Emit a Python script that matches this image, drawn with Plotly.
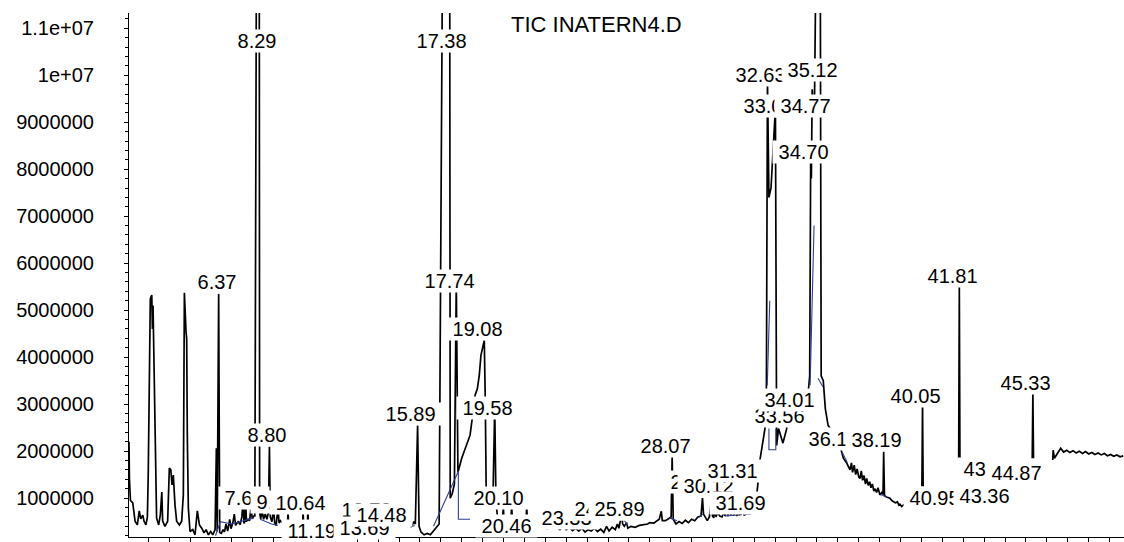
import plotly.graph_objects as go

# Total ion chromatogram: retention time (min) and abundance (counts).
# None entries break the trace where it runs behind the peak labels.
rt_min = [
    2.08, 2.10, 2.15, 2.26, 2.37, 2.48, 2.57, 2.64, 2.74, 2.80, 2.89, 2.96,
    3.00, 3.05, 3.10, 3.17, 3.20, 3.23, 3.28, 3.34, 3.40, 3.50, 3.58, 3.65,
    3.69, 3.80, 3.93, 4.01, 4.08, 4.14, 4.20, 4.28, 4.36, 4.49, 4.60, 4.68,
    4.73, 4.81, 4.84, 4.87, 4.92, 5.00, 5.13, 5.24, 5.35, 5.45, 5.56, 5.67,
    5.77, 5.88, 5.99, 6.09, 6.20, 6.26, 6.30, 6.37, 6.42, 6.50, 6.58, 6.65,
    6.72, 6.80, 6.90, 6.96, 7.05, 7.12, 7.18, 7.30, 7.40, 7.48, 7.54, 7.58,
    7.62, 7.66, 7.70, 7.78, 7.85, 7.92, 7.98, 8.05, 8.10, 8.29, 8.33, 8.38,
    8.45, 8.52, 8.60, 8.68, 8.75, 8.80, 8.84, 8.92, 9.00, 9.05, 9.12, 9.21,
    9.26, 9.33, 9.40, None,
    9.67, 9.69, 9.71, None,
    10.39, 10.41, 10.43, None,
    10.62, 10.64, 10.66, None,
    15.62, 15.70, 15.78, 15.89, 15.96, 16.05, 16.20, 16.35, 16.50, 16.70,
    16.92, 17.38, 17.45, 17.55, 17.65, 17.74, 17.82, 18.00, 18.24, 18.40,
    18.52, 18.64, 18.75, 18.84, 18.92, 19.03, 19.08, 19.13, 19.17, 19.30,
    19.50, 19.58, 19.64, 19.75, 19.95, 19.99, 20.03, 20.35, 20.39, 20.43,
    20.80, 21.07, 21.11, 21.15, 21.50, 21.80, 22.10, 22.30, 22.54, 22.70,
    22.85, 23.00, 23.15, 23.30, 23.45, 23.60, 23.75, 23.90, 24.05, 24.20,
    24.35, 24.50, 24.65, 24.80, 24.93, 25.05, 25.20, 25.35, 25.45, 25.52,
    25.60, 25.66, 25.70, 25.78, 25.89, 25.95, 26.10, 26.30, 26.50, 26.70,
    26.90, 27.00, 27.20, 27.35, 27.45, 27.55, 27.60, 27.75, 27.90, 28.02,
    28.07, 28.12, 28.25, 28.40, 28.55, 28.70, 28.85, 29.00, 29.15, 29.30,
    29.45, 29.52, 29.57, 29.65, 29.75, 29.85, 29.95, 30.00, 30.06, 30.12,
    30.17, 30.25, 30.35, 30.46, 30.55, 30.60, 30.68, 30.74, 30.82, 30.88,
    30.96, 31.02, 31.10, 31.16, 31.24, 31.28, 31.31, 31.36, 31.45, 31.52,
    31.60, 31.69, 31.76, 31.85, 31.95, 32.05, 32.15, 32.27, 32.51, 32.58,
    32.63, 32.70, 32.80, 33.01, 33.05, 33.06, 33.07, 33.16, 33.37, 33.55,
    33.56, 33.65, 33.85, 34.01, 34.15, 34.35, 34.55, 34.65, 34.70, 34.73,
    34.77, 34.83, 34.88, 35.12, 35.20, 35.30, 35.40, 35.53, 35.75, 35.95,
    36.14, 36.26, 36.42, 36.58, 36.65, 36.70, 36.78, 36.85, 36.92, 37.00,
    37.06, 37.12, 37.18, 37.25, 37.32, 37.38, 37.45, 37.52, 37.58, 37.65,
    37.72, 37.78, 37.85, 37.92, 38.01, 38.10, 38.16, 38.19, 38.23, 38.35,
    38.49, 38.58, 38.65, 38.75, 38.85, 38.92, 38.97, 39.05, 39.15, 39.25,
    None,
    40.02, 40.05, 40.08, None,
    41.78, 41.81, 41.84, None,
    45.30, 45.33, 45.36, None,
    46.28, 46.30, 46.36, 46.50, 46.66, 46.80, 46.95, 47.10, 47.25, 47.40,
    47.55, 47.70, 47.85, 48.00, 48.15, 48.30, 48.45, 48.60, 48.75, 48.90,
    49.05, 49.20, 49.35, 49.50, 49.65,
]
tic_counts = [
    2.20e6, 1.40e6, 0.95e6, 0.90e6, 0.51e6, 0.43e6, 0.73e6, 0.56e6, 0.64e6, 0.51e6, 0.43e6, 0.60e6,
    1.49e6, 3.76e6, 5.24e6, 5.32e6, 4.60e6, 5.10e6, 3.76e6, 1.49e6, 0.58e6, 0.43e6, 0.65e6, 1.13e6,
    0.51e6, 0.40e6, 0.51e6, 1.64e6, 1.60e6, 1.28e6, 1.49e6, 0.86e6, 0.51e6, 0.43e6, 0.51e6, 1.07e6,
    5.37e6, 4.53e6, 4.39e6, 2.34e6, 0.79e6, 0.29e6, 0.33e6, 0.22e6, 0.73e6, 0.43e6, 0.36e6, 0.26e6,
    0.33e6, 0.22e6, 0.29e6, 0.22e6, 0.33e6, 2.06e6, 0.29e6, 5.35e6, 0.27e6, 0.25e6, 0.33e6, 0.28e6,
    0.45e6, 0.30e6, 0.55e6, 0.35e6, 0.48e6, 0.66e6, 0.42e6, 0.50e6, 0.44e6, 0.60e6, 0.95e6, 0.46e6,
    0.50e6, 0.96e6, 0.50e6, 0.55e6, 0.52e6, 0.80e6, 0.56e6, 0.62e6, 0.62e6, 3.00e7, 0.70e6, 0.56e6,
    0.74e6, 0.55e6, 0.66e6, 0.55e6, 0.70e6, 2.10e6, 0.60e6, 0.50e6, 0.78e6, 0.48e6, 0.42e6, 0.80e6,
    0.47e6, 0.52e6, 0.48e6, None,
    0.50e6, 0.72e6, 0.50e6, None,
    0.50e6, 0.70e6, 0.50e6, None,
    0.50e6, 0.74e6, 0.50e6, None,
    0.40e6, 0.50e6, 0.45e6, 2.55e6, 0.40e6, 0.28e6, 0.22e6, 0.25e6, 0.22e6, 0.32e6,
    0.45e6, 3.50e7, 1.00e6, 1.10e6, 1.30e6, 5.60e6, 1.55e6, 1.85e6, 2.13e6, 2.34e6,
    2.75e6, 3.19e6, 3.33e6, 3.61e6, 4.04e6, 4.29e6, 4.36e6, 3.00e6, 1.20e6, 1.10e6,
    1.10e6, 2.95e6, 0.90e6, 0.45e6, 0.45e6, 0.85e6, 0.45e6, 0.45e6, 0.85e6, 0.45e6,
    0.40e6, 0.40e6, 0.85e6, 0.40e6, 0.36e6, 0.38e6, 0.35e6, 0.42e6, 0.38e6, 0.33e6,
    0.40e6, 0.33e6, 0.38e6, 0.31e6, 0.36e6, 0.30e6, 0.36e6, 0.28e6, 0.33e6, 0.30e6,
    0.36e6, 0.29e6, 0.34e6, 0.27e6, 0.40e6, 0.30e6, 0.38e6, 0.33e6, 0.45e6, 0.36e6,
    0.55e6, 0.66e6, 0.45e6, 0.40e6, 0.48e6, 0.36e6, 0.40e6, 0.38e6, 0.42e6, 0.44e6,
    0.45e6, 0.48e6, 0.47e6, 0.52e6, 0.55e6, 0.72e6, 0.52e6, 0.52e6, 0.56e6, 0.60e6,
    1.89e6, 0.55e6, 0.45e6, 0.50e6, 0.46e6, 0.53e6, 0.48e6, 0.55e6, 0.52e6, 0.60e6,
    0.62e6, 1.00e6, 0.66e6, 0.60e6, 0.52e6, 0.60e6, 0.95e6, 0.62e6, 0.58e6, 0.82e6,
    0.60e6, 0.70e6, 0.62e6, 0.60e6, 0.72e6, 0.62e6, 0.76e6, 0.62e6, 0.75e6, 0.63e6,
    0.77e6, 0.63e6, 0.78e6, 0.62e6, 0.74e6, 0.63e6, 0.80e6, 0.64e6, 0.77e6, 0.64e6,
    0.66e6, 0.82e6, 0.66e6, 0.70e6, 0.78e6, 0.90e6, 1.20e6, 1.81e6, 2.48e6, 3.40e6,
    9.90e6, 7.40e6, 7.60e6, 9.30e6, 3.20e6, 2.40e6, 2.12e6, 2.48e6, 2.17e6, 2.48e6,
    3.00e6, 2.60e6, 2.55e6, 3.20e6, 2.60e6, 2.75e6, 3.10e6, 3.60e6, 8.40e6, 7.80e6,
    9.70e6, 9.20e6, 9.40e6, 2.00e7, 3.60e6, 3.50e6, 2.90e6, 2.55e6, 2.40e6, 2.20e6,
    2.05e6, 1.85e6, 1.75e6, 1.60e6, 1.75e6, 1.55e6, 1.70e6, 1.50e6, 1.62e6, 1.45e6,
    1.42e6, 1.58e6, 1.38e6, 1.48e6, 1.30e6, 1.42e6, 1.27e6, 1.35e6, 1.22e6, 1.30e6,
    1.15e6, 1.20e6, 1.12e6, 1.22e6, 1.07e6, 1.12e6, 1.08e6, 1.99e6, 1.05e6, 1.02e6,
    1.00e6, 0.95e6, 0.93e6, 0.90e6, 0.92e6, 0.85e6, 0.87e6, 0.82e6, 0.86e6, 0.80e6,
    None,
    1.25e6, 3.00e6, 1.25e6, None,
    1.85e6, 5.50e6, 1.85e6, None,
    1.85e6, 3.25e6, 1.85e6, None,
    1.81e6, 2.02e6, 1.85e6, 1.95e6, 2.06e6, 1.98e6, 2.02e6, 1.97e6, 2.01e6, 1.96e6,
    2.00e6, 1.95e6, 1.99e6, 1.94e6, 1.97e6, 1.93e6, 1.96e6, 1.92e6, 1.95e6, 1.90e6,
    1.93e6, 1.89e6, 1.92e6, 1.88e6, 1.90e6,
]

# Integration baselines and drop lines
base_rt = [
    6.22, 6.45, 7.00, 7.60, 8.05, None,
    8.36, 8.90, 9.20, None,
    15.55, 15.75, None,
    16.65, 17.84, 17.84, 18.40, None,
    25.62, 25.95, None,
    27.95, 28.30, None,
    29.30, 29.55, None,
    30.60, 31.20, None,
    31.50, 32.00, None,
    32.62, 32.74, None,
    32.70, 32.70, 33.03, 33.03, None,
    34.67, 34.86, None,
    35.05, 35.28, None,
    36.20, 36.45, None,
    38.05, 38.35,
]
base_counts = [
    0.20e6, 0.50e6, 0.45e6, 0.52e6, 0.58e6, None,
    0.55e6, 0.45e6, 0.42e6, None,
    0.38e6, 0.42e6, None,
    0.40e6, 1.57e6, 0.55e6, 0.55e6, None,
    0.62e6, 0.42e6, None,
    0.58e6, 0.52e6, None,
    0.58e6, 0.66e6, None,
    0.62e6, 0.64e6, None,
    0.65e6, 0.68e6, None,
    3.40e6, 5.20e6, None,
    2.48e6, 2.03e6, 2.03e6, 2.48e6, None,
    3.40e6, 6.80e6, None,
    3.55e6, 3.37e6, None,
    1.98e6, 1.76e6, None,
    1.08e6, 1.02e6,
]

# Abundance axis ticks
y_tick_vals = [1e6, 2e6, 3e6, 4e6, 5e6, 6e6, 7e6, 8e6, 9e6, 1e7, 1.1e7]
y_tick_text = ["1000000", "2000000", "3000000", "4000000", "5000000", "6000000",
               "7000000", "8000000", "9000000", "1e+07", "1.1e+07"]

# Retention-time labels and the abundance level at which each one is printed
# (drawn in this order, so later labels sit on top of earlier ones)
peak_labels = [
    "8.29", "17.38", "32.63", "35.12", "33.01", "34.77", "34.70",
    "6.37", "17.74", "41.81", "19.08", "45.33", "40.05", "33.56", "34.01",
    "19.58", "15.89", "8.80", "36.14", "38.19", "28.07", "29.52", "30.12",
    "31.31", "31.69", "43.52", "44.87", "40.95", "43.36", "20.10", "20.46",
    "23.33", "24.93", "25.89", "7.66", "9.21", "10.64", "11.19", "13.78",
    "13.69", "14.48",
]
label_levels = [
    10.73e6, 10.73e6, 10.01e6, 10.12e6, 9.35e6, 9.35e6, 8.36e6,
    5.60e6, 5.62e6, 5.73e6, 4.60e6, 3.46e6, 3.18e6, 2.74e6, 3.08e6,
    2.91e6, 2.80e6, 2.34e6, 2.25e6, 2.23e6, 2.12e6, 1.35e6, 1.25e6,
    1.57e6, 0.89e6, 1.61e6, 1.53e6, 1.00e6, 1.04e6, 1.00e6, 0.41e6,
    0.58e6, 0.77e6, 0.77e6, 1.00e6, 0.92e6, 0.89e6, 0.30e6, 0.75e6,
    0.36e6, 0.64e6,
]

title_text = "TIC INATERN4.D"

FONT = "Liberation Sans"
TXT = dict(family=FONT, size=20, color="black")
PAD = "\u00a0"  # side padding inside each white label box

fig = go.Figure()
fig.add_trace(go.Scatter(
    x=rt_min, y=tic_counts, mode="lines",
    line=dict(color="black", width=1.7),
    connectgaps=False, hoverinfo="skip",
))
fig.add_trace(go.Scatter(
    x=base_rt, y=base_counts, mode="lines",
    line=dict(color="#2e3d96", width=1.1),
    connectgaps=False, hoverinfo="skip",
))

for text, level in zip(peak_labels, label_levels):
    fig.add_annotation(
        x=float(text), y=level, text=PAD + text + PAD, showarrow=False,
        xanchor="center", yanchor="middle",
        xshift=-5.0 * (len(text) - 3.6),
        bgcolor="white", borderpad=0, font=TXT,
    )

fig.add_annotation(
    x=24.46, y=11.07e6, text=title_text, showarrow=False,
    xanchor="center", yanchor="middle",
    font=dict(family=FONT, size=22, color="black"),
)

fig.update_layout(
    width=1124, height=542, autosize=False,
    margin=dict(l=129, r=0, t=13, b=3),
    paper_bgcolor="white", plot_bgcolor="white",
    showlegend=False,
    xaxis=dict(
        range=[2.08, 49.69], showgrid=False, zeroline=False,
        showline=True, linecolor="black", linewidth=1,
        ticks="outside", ticklen=5, tickcolor="black",
        tickmode="linear", tick0=0, dtick=1, showticklabels=False,
    ),
    yaxis=dict(
        range=[173000, 11324000], showgrid=False, zeroline=False,
        showline=True, linecolor="black", linewidth=1,
        ticks="outside", ticklen=4, tickcolor="black",
        tickmode="array", tickvals=y_tick_vals, ticktext=y_tick_text,
        tickfont=TXT, ticklabelstandoff=26,
        minor=dict(ticks="outside", ticklen=3, tickcolor="black",
                   tickmode="linear", tick0=0, dtick=200000),
    ),
)

fig.write_html("out.html", config={"displayModeBar": False})
